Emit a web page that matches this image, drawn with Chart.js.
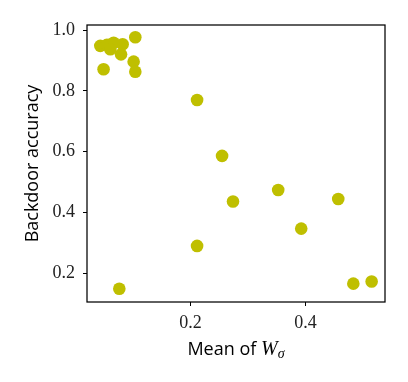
<!DOCTYPE html>
<html><head><meta charset="utf-8">
<script src="https://cdn.jsdelivr.net/npm/chart.js@4"></script>
<style>html,body{margin:0;padding:0;background:#fff}#wrap{width:408px;height:382px}</style>
</head><body><div id="wrap"><canvas id="c" width="408" height="382"></canvas></div>
<script>
const meanWsigma = [0.0435,0.055,0.0666,0.0609,0.0823,0.0795,0.1043,0.1014,0.1043,0.0492,0.2116,0.255,0.274,0.3525,0.4568,0.3925,0.2116,0.0765,0.483,0.5148];
const backdoorAcc = [0.948,0.951,0.958,0.937,0.953,0.920,0.976,0.896,0.863,0.871,0.770,0.586,0.436,0.474,0.4445,0.347,0.290,0.149,0.166,0.173];
const xTicks = [0.2,0.4];
const yTicks = [0.2,0.4,0.6,0.8,1.0];
const xLabel = ['Mean of ', 'W', 'σ'];
const yLabel = 'Backdoor accuracy';

const points = meanWsigma.map((x,i)=>({x, y: backdoorAcc[i]}));

const frame = {
  id:'frame',
  afterDatasetsDraw(chart){
    const {ctx, chartArea:a} = chart;
    ctx.save();
    ctx.strokeStyle='#000'; ctx.lineWidth=1.25;
    ctx.strokeRect(a.left, a.top, a.right-a.left, a.bottom-a.top);
    ctx.restore();
  },
  afterDraw(chart){
    const {ctx, chartArea:a} = chart;
    ctx.save();
    ctx.fillStyle='#000';
    ctx.textBaseline='alphabetic';
    const f1='18px "Open Sans"', f2='italic 20px "Liberation Serif"', f3='italic 14px "Liberation Serif"';
    ctx.font=f1; const w1=ctx.measureText(xLabel[0]).width;
    ctx.font=f2; const w2=ctx.measureText(xLabel[1]).width;
    ctx.font=f3; const w3=ctx.measureText(xLabel[2]).width;
    let x=(a.left+a.right)/2-(w1+w2+w3)/2; const y=355;
    ctx.font=f1; ctx.fillText(xLabel[0],x,y); x+=w1;
    ctx.font=f2; ctx.fillText(xLabel[1],x,y); x+=w2;
    ctx.font=f3; ctx.fillText(xLabel[2],x,y+3);
    ctx.translate(33,(a.top+a.bottom)/2);
    ctx.rotate(-Math.PI/2);
    ctx.font='18px "Open Sans"'; ctx.textAlign='center'; ctx.textBaseline='middle';
    ctx.fillText(yLabel,0,0);
    ctx.restore();
  }
};

new Chart(document.getElementById('c'), {
  type:'scatter',
  data:{datasets:[{data:points, backgroundColor:'#bfbf00', borderColor:'#bfbf00', pointRadius:6.3, pointHoverRadius:6.3, borderWidth:0}]},
  options:{
    responsive:false, animation:false, devicePixelRatio:1,
    layout:{padding:{left:0,right:23,top:25,bottom:0}},
    plugins:{legend:{display:false}, tooltip:{enabled:false}},
    scales:{
      x:{type:'linear', min:0.0204, max:0.538,
        afterFit(s){s.height=80;},
        afterBuildTicks(s){s.ticks=xTicks.map(v=>({value:v}));},
        grid:{display:true, drawOnChartArea:false, tickLength:4, color:'#000', tickWidth:1},
        border:{display:false},
        ticks:{color:'#222', font:{family:'"Liberation Serif"', size:18}, padding:6, callback:v=>v.toFixed(1), maxRotation:0}
      },
      y:{type:'linear', min:0.1056, max:1.0165,
        afterFit(s){s.width=87;},
        afterBuildTicks(s){s.ticks=yTicks.map(v=>({value:v}));},
        grid:{display:true, drawOnChartArea:false, tickLength:4, color:'#000', tickWidth:1},
        border:{display:false},
        ticks:{color:'#222', font:{family:'"Liberation Serif"', size:18}, padding:8, callback:v=>v.toFixed(1)}
      }
    }
  },
  plugins:[frame]
});
</script></body></html>
